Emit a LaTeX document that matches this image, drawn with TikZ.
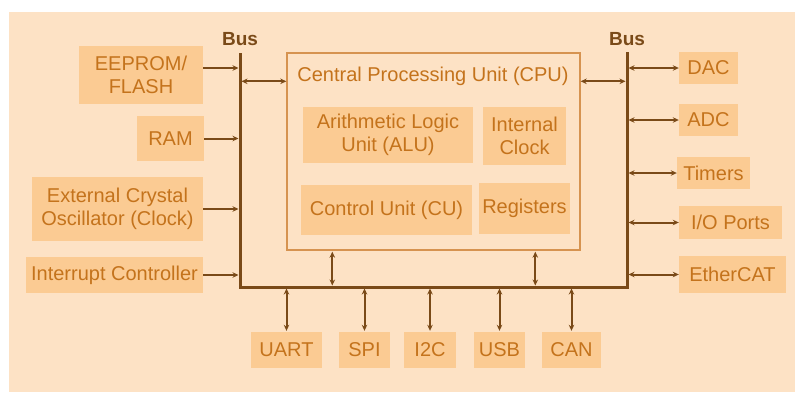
\documentclass[tikz,border=0pt]{standalone}
\usepackage{fontspec}
\setmainfont{Liberation Sans}
\usetikzlibrary{arrows.meta}
\definecolor{bg}{HTML}{FDE2C5}
\definecolor{boxfill}{HTML}{FBCB93}
\definecolor{txt}{HTML}{C4731C}
\definecolor{wire}{HTML}{7A4A18}
\definecolor{cpuedge}{HTML}{D69350}

\begin{document}
\begin{tikzpicture}[x=1pt,y=-1pt,
  blk/.style={fill=boxfill, text=txt, inner sep=0pt, align=center,
              font=\fontsize{20}{23}\selectfont},
  tip/.tip={Stealth[length=6pt,width=5.5pt]},
  arr/.style={wire, line width=2pt, -tip},
  darr/.style={wire, line width=2pt, tip-tip},
  bus/.style={wire, line width=3pt, line join=miter},
  buslabel/.style={text=wire, font=\bfseries\fontsize{19}{21}\selectfont},
]
\useasboundingbox (0,0) rectangle (795,392);
\fill[bg] (9,12) rectangle (795,392);

% bus geometry
\coordinate (lbtop) at (240,53);
\coordinate (lbbot) at (240,287);
\coordinate (rbtop) at (627,52);
\coordinate (rbbot) at (627,287);
\draw[bus] (lbtop) -- (lbbot) -- (rbbot) -- (rbtop);
\node[buslabel] (busL) at (240,39) {Bus};
\node[buslabel] (busR) at (627,39) {Bus};

% memory and clock side
\node[blk, minimum width=124pt, minimum height=58pt] (eeprom) at (141,75) {EEPROM/\\FLASH};
\node[blk, minimum width=67pt, minimum height=45pt] (ram) at (170.5,138.5) {RAM};
\node[blk, minimum width=171pt, minimum height=64pt] (osc) at (117.5,209) {External Crystal\\Oscillator (Clock)};
\node[blk, minimum width=177pt, minimum height=36pt] (irq) at (114.5,275) {Interrupt Controller};

% CPU
\node[draw=cpuedge, line width=1.4pt, minimum width=293pt, minimum height=197pt, inner sep=0pt] (cpu) at (433.5,151.5) {};
\node[text=txt, font=\fontsize{20}{23}\selectfont] (cputitle) at (433,76) {Central Processing Unit (CPU)};
\node[blk, minimum width=170pt, minimum height=56pt] (alu) at (388,135) {Arithmetic Logic\\Unit (ALU)};
\node[blk, minimum width=83pt, minimum height=58pt] (iclk) at (524.5,136) {Internal\\Clock};
\node[blk, minimum width=171pt, minimum height=50pt] (cu) at (386.5,210) {Control Unit (CU)};
\node[blk, minimum width=91pt, minimum height=51pt] (regs) at (524.5,208.5) {Registers};

% peripherals, right side
\node[blk, minimum width=59pt, minimum height=32pt] (dac) at (708.5,68) {DAC};
\node[blk, minimum width=59pt, minimum height=32pt] (adc) at (708.5,120) {ADC};
\node[blk, minimum width=73pt, minimum height=32pt] (timers) at (713.5,173) {Timers};
\node[blk, minimum width=103pt, minimum height=33pt] (io) at (730.5,222.5) {I/O Ports};
\node[blk, minimum width=107pt, minimum height=37pt] (ecat) at (732.5,274.5) {EtherCAT};

% serial interfaces, bottom
\node[blk, minimum width=71pt, minimum height=36pt] (uart) at (286.5,350) {UART};
\node[blk, minimum width=51pt, minimum height=36pt] (spi) at (364.5,350) {SPI};
\node[blk, minimum width=52pt, minimum height=36pt] (i2c) at (430,350) {I2C};
\node[blk, minimum width=51pt, minimum height=36pt] (usb) at (499.5,350) {USB};
\node[blk, minimum width=59pt, minimum height=36pt] (can) at (571.5,350) {CAN};

% left-side connections into the bus
\coordinate (ea) at ([yshift=7pt]eeprom.east);
\draw[arr, shorten >=1.5pt] (ea) -- (ea -| lbtop);
\draw[arr, shorten >=1.5pt] (ram.east) -- (ram.east -| lbtop);
\draw[arr, shorten >=1.5pt] (osc.east) -- (osc.east -| lbtop);
\draw[arr, shorten >=1.5pt] (irq.east) -- (irq.east -| lbtop);

% CPU to both buses
\coordinate (cl) at ([yshift=-29pt]cpu.north west);
\coordinate (cr) at ([yshift=-29pt]cpu.north east);
\draw[darr, shorten >=1.5pt] (cl) -- (cl -| lbtop);
\draw[darr, shorten >=1.5pt] (cr) -- (cr -| rbtop);
\coordinate (cb1) at ([xshift=46pt]cpu.south west);
\coordinate (cb2) at ([xshift=249pt]cpu.south west);
\draw[darr, shorten >=1.5pt, shorten <=1pt] (cb1) -- (cb1 |- lbbot);
\draw[darr, shorten >=1.5pt, shorten <=1pt] (cb2) -- (cb2 |- lbbot);

% right bus to peripherals
\draw[darr, shorten <=1.5pt] (dac.west -| rbtop) -- (dac.west);
\draw[darr, shorten <=1.5pt] (adc.west -| rbtop) -- (adc.west);
\draw[darr, shorten <=1.5pt] (timers.west -| rbtop) -- (timers.west);
\draw[darr, shorten <=1.5pt] (io.west -| rbtop) -- (io.west);
\draw[darr, shorten <=1.5pt] (ecat.west -| rbtop) -- (ecat.west);

% bottom bus to interfaces
\draw[darr, shorten <=1.5pt, shorten >=1pt] (uart.north |- lbbot) -- (uart.north);
\draw[darr, shorten <=1.5pt, shorten >=1pt] (spi.north |- lbbot) -- (spi.north);
\draw[darr, shorten <=1.5pt, shorten >=1pt] (i2c.north |- lbbot) -- (i2c.north);
\draw[darr, shorten <=1.5pt, shorten >=1pt] (usb.north |- lbbot) -- (usb.north);
\draw[darr, shorten <=1.5pt, shorten >=1pt] (can.north |- lbbot) -- (can.north);
\end{tikzpicture}
\end{document}
